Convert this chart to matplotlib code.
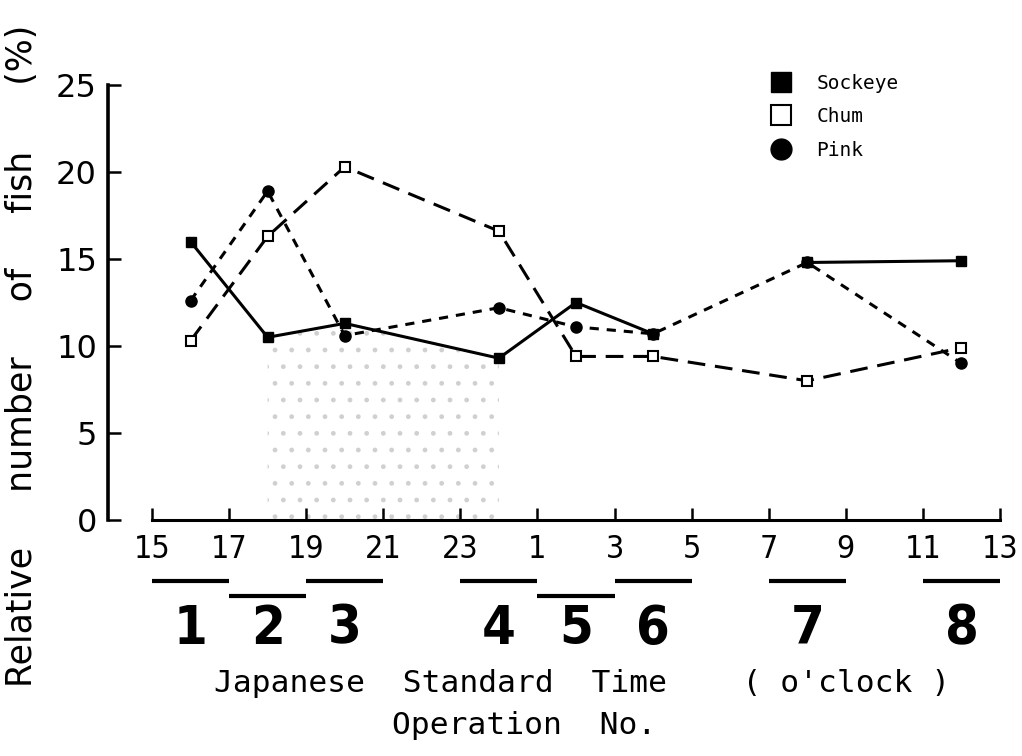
import matplotlib
matplotlib.use("Agg")
import matplotlib.pyplot as plt
import matplotlib.transforms as mtransforms
from matplotlib.lines import Line2D

# hours counted from 0 o'clock of the first day (25 = 1 o'clock next day)
hours = [16, 18, 20, 24, 26, 28, 32, 36]
sockeye = [16.0, 10.5, 11.3, 9.3, 12.5, 10.7, 14.8, 14.9]
chum = [10.3, 16.3, 20.3, 16.6, 9.4, 9.4, 8.0, 9.9]
pink = [12.6, 18.9, 10.6, 12.2, 11.1, 10.7, 14.8, 9.0]

tick_hours = [15, 17, 19, 21, 23, 25, 27, 29, 31, 33, 35, 37]
tick_labels = ['15', '17', '19', '21', '23', '1', '3', '5', '7', '9', '11', '13']

op_numbers = ['1', '2', '3', '4', '5', '6', '7', '8']
op_start = [15, 17, 19, 23, 25, 27, 31, 35]
op_end = [17, 19, 21, 25, 27, 29, 33, 37]
op_lower = [False, True, False, False, True, False, False, False]

# stippled (night) area
night_hours = [18, 20, 24]
night_top = [10.5, 11.3, 9.3]

fig = plt.figure(figsize=(10.22, 7.56), dpi=100)
ax = fig.add_axes([108 / 1022, 1 - 520 / 756, (1000 - 108) / 1022, (520 - 85) / 756])

ax.fill_between(night_hours, 0, night_top, facecolor='none', edgecolor='#d0d0d0',
                hatch='.', linewidth=0, zorder=0)

lw = 2.2
ax.plot(hours[:6], sockeye[:6], color='black', lw=lw, marker='s', ms=7,
        zorder=4)
ax.plot(hours[6:], sockeye[6:], color='black', lw=lw, marker='s', ms=7,
        zorder=4)
ax.plot(hours, chum, color='black', lw=lw, dashes=(5.8, 3.2), marker='s',
        ms=7, mfc='white', mew=1.5, zorder=3)
ax.plot(hours, pink, color='black', lw=lw, dashes=(3.0, 2.6), marker='o',
        ms=8, zorder=2)

ax.set_xlim(15 - 44 / 38.55, 37)
ax.set_ylim(0, 25)
ax.set_yticks([0, 5, 10, 15, 20, 25])
ax.set_xticks(tick_hours)
ax.set_xticklabels(tick_labels, fontsize=23, fontstretch='condensed')
ax.set_yticklabels(['0', '5', '10', '15', '20', '25'], fontsize=23)

for side in ['top', 'right']:
    ax.spines[side].set_visible(False)
ax.spines['left'].set_linewidth(2.6)
ax.spines['bottom'].set_linewidth(2.2)
ax.spines['left'].set_bounds(0, 25)
ax.spines['bottom'].set_bounds(15, 37)
ax.tick_params(axis='both', direction='in', length=9, width=1.8)
ax.tick_params(axis='x', pad=10)
ax.tick_params(axis='y', pad=8)

trans = mtransforms.blended_transform_factory(ax.transData, ax.transAxes)
for num, s, e, low in zip(op_numbers, op_start, op_end, op_lower):
    yb = -0.175 if low else -0.140
    ax.plot([s, e], [yb, yb], color='black', lw=3, transform=trans,
            clip_on=False, solid_capstyle='butt')
    ax.text((s + e) / 2, -0.250, num, transform=trans, ha='center',
            va='center', fontsize=39, fontweight='bold',
            fontstretch='condensed')

fig.text(22 / 1022, 1 - 356 / 756,
         'Relative     number     of     fish      (%)',
         rotation=90, ha='center', va='center', fontsize=25)
fig.text(214 / 1022, 1 - 683 / 756,
         "Japanese  Standard  Time    ( o'clock )",
         ha='left', va='center', fontsize=22.5, family='DejaVu Sans Mono')
fig.text(392 / 1022, 1 - 725 / 756, 'Operation  No.',
         ha='left', va='center', fontsize=22.5, family='DejaVu Sans Mono')

handles = [
    Line2D([], [], ls='none', marker='s', ms=14, color='black'),
    Line2D([], [], ls='none', marker='s', ms=14, mfc='white', mec='black',
           mew=1.5),
    Line2D([], [], ls='none', marker='o', ms=15, color='black'),
]
fig.legend(handles, ['Sockeye', 'Chum', 'Pink'], loc='upper left',
           bbox_to_anchor=(760 / 1022, 1 - 64 / 756), frameon=False,
           prop={'family': 'DejaVu Sans Mono', 'size': 14},
           handletextpad=1.2, labelspacing=0.75, borderpad=0, handlelength=1.2)

fig.savefig('out.png', dpi=100)
